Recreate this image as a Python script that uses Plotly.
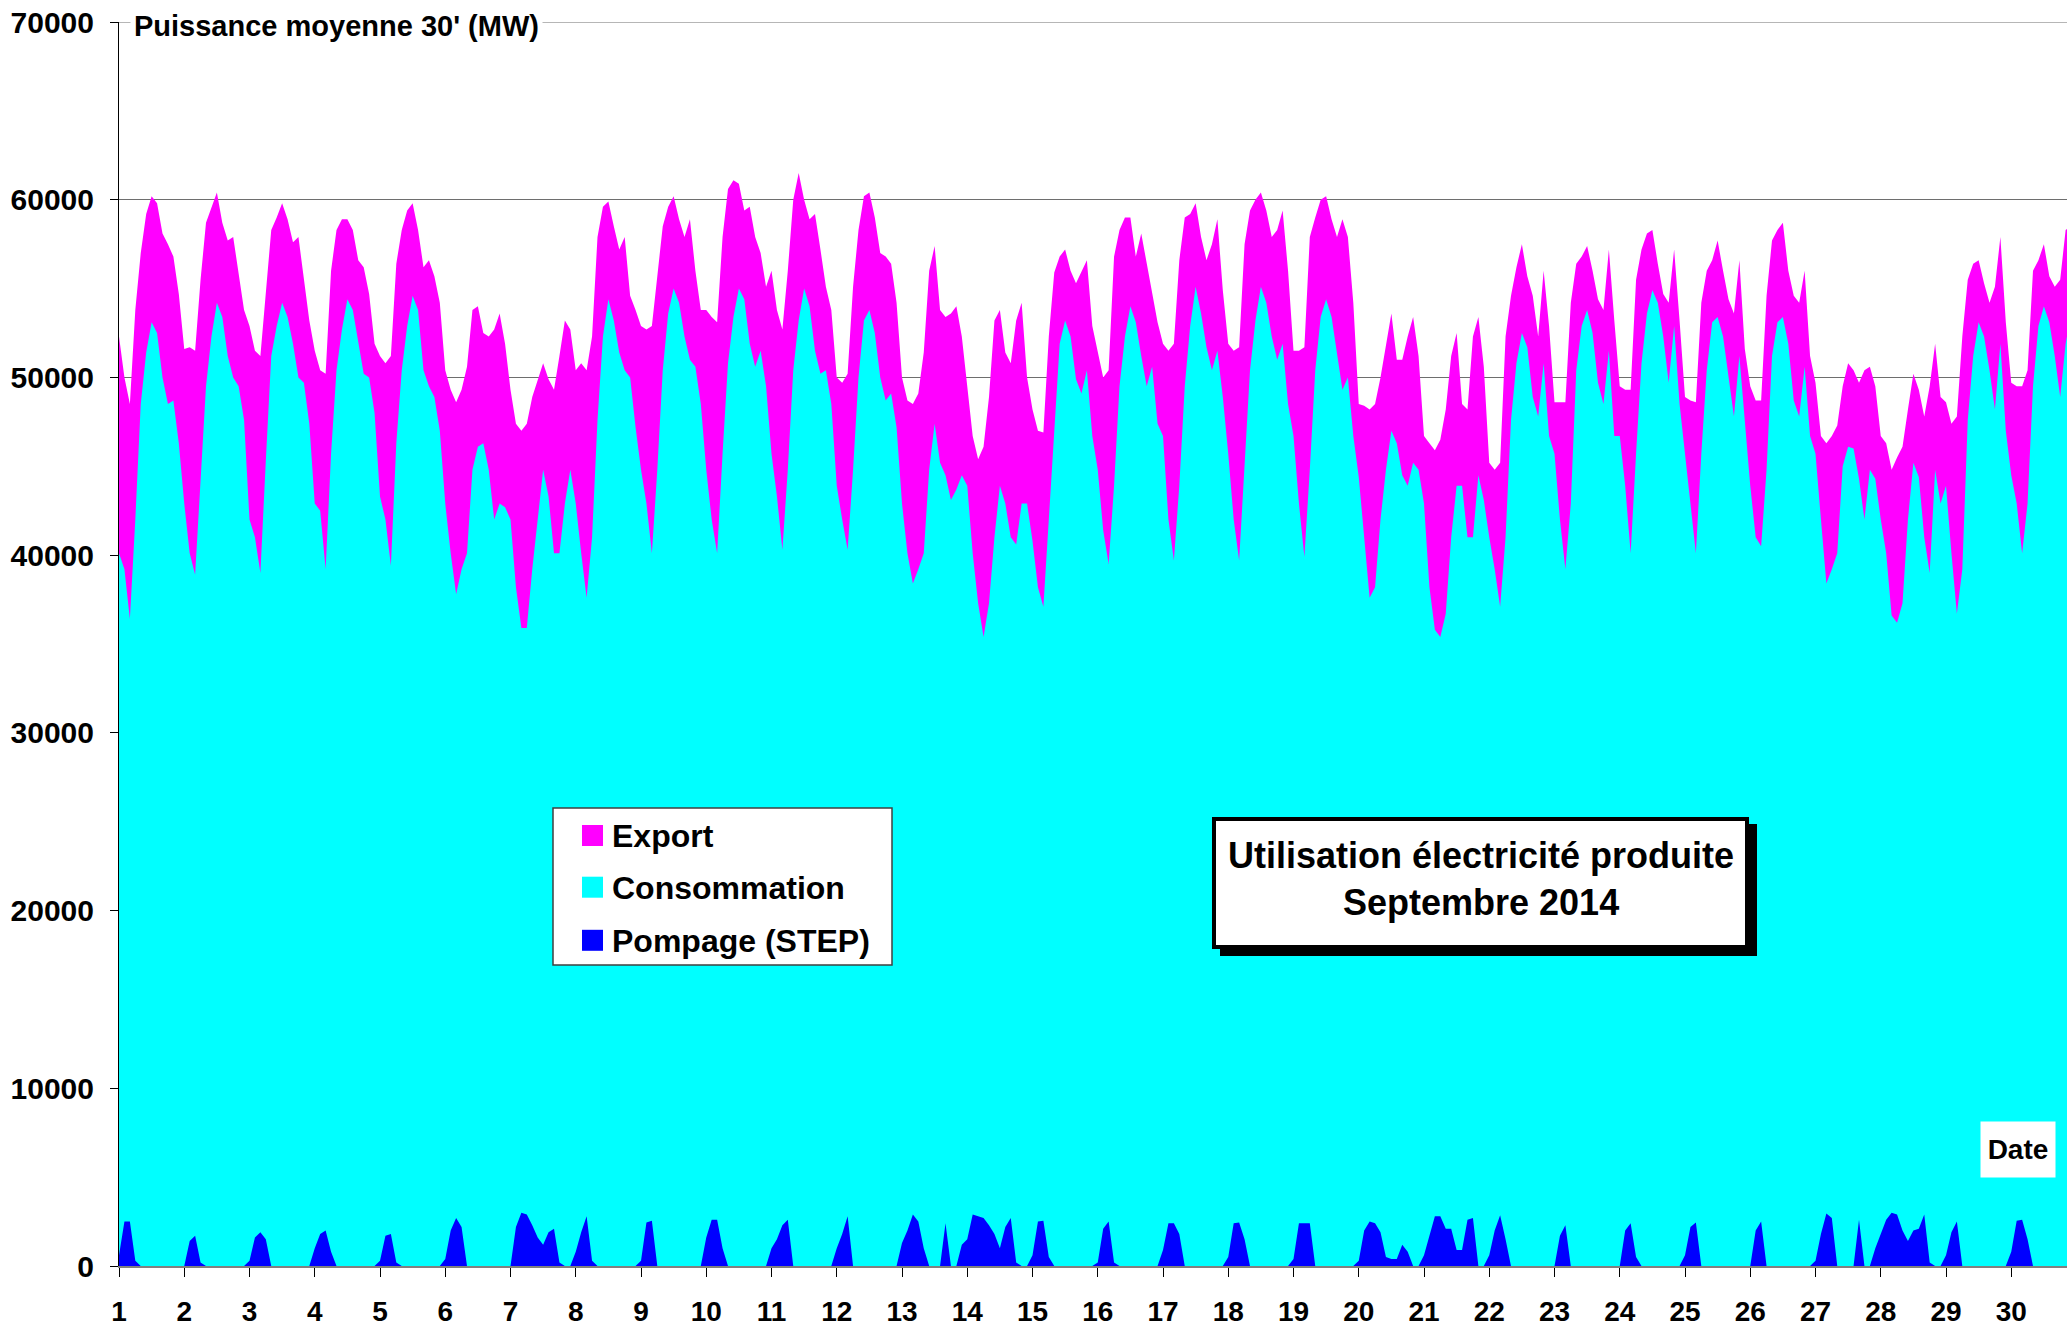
import plotly.graph_objects as go

# ---------------- data (MW) ----------------
jours = list(range(1, 31))                 # days of September 2014
heures = [0, 2, 4, 6, 8, 10, 12, 14, 16, 18, 20, 22]   # sample hours in each day
x_tick_labels = [str(d) for d in jours]
y_tick_values = [0, 10000, 20000, 30000, 40000, 50000, 60000, 70000]
y_tick_labels = [str(v) for v in y_tick_values]

# upper edge of the Export band (stack top)
export_haut = [
    [52300, 50000, 48500, 53800, 57000, 59200, 60200, 59800, 58100, 57500, 56800, 54700],
    [51600, 51700, 51500, 55500, 58700, 59600, 60400, 58700, 57700, 57900, 55700, 53800],
    [52900, 51500, 51200, 54600, 58300, 59000, 59800, 58900, 57600, 57900, 55500, 53200],
    [51500, 50400, 50200, 56000, 58300, 58900, 58900, 58300, 56600, 56200, 54700, 51900],
    [51200, 50800, 51200, 56400, 58300, 59400, 59800, 58300, 56200, 56600, 55700, 54200],
    [50400, 49300, 48600, 49300, 50600, 53800, 54000, 52500, 52300, 52700, 53600, 51900],
    [49300, 47400, 47000, 47400, 48900, 49900, 50800, 49900, 49300, 51200, 53200, 52700],
    [50400, 50800, 50400, 52300, 57900, 59600, 59900, 58500, 57200, 57900, 54600, 53800],
    [52900, 52700, 52900, 55700, 58500, 59600, 60200, 58900, 57900, 58900, 56000, 53800],
    [53800, 53400, 53100, 57900, 60600, 61100, 60900, 59400, 59600, 57900, 57000, 55100],
    [56000, 53800, 52700, 56000, 60000, 61500, 60000, 58900, 59200, 57200, 55100, 53800],
    [50000, 49700, 50200, 55100, 58300, 60200, 60400, 59000, 57000, 56800, 56400, 54200],
    [50000, 48700, 48500, 49100, 51400, 56000, 57400, 53800, 53400, 53600, 54000, 52300],
    [49500, 46700, 45400, 46100, 48900, 53200, 53800, 51400, 50800, 53200, 54200, 50000],
    [48200, 47000, 46900, 52300, 55900, 56800, 57200, 56000, 55300, 56000, 56600, 52900],
    [51500, 50000, 50400, 56800, 58300, 59000, 59000, 56800, 58100, 56400, 54900, 53100],
    [51900, 51500, 51900, 56600, 59000, 59200, 59800, 57900, 56600, 57500, 58900, 54900],
    [51900, 51500, 51700, 57500, 59400, 60000, 60400, 59400, 57900, 58300, 59400, 56000],
    [51500, 51500, 51700, 57900, 59000, 60000, 60200, 58900, 57900, 58900, 57900, 54200],
    [48500, 48400, 48200, 48500, 50000, 51900, 53600, 51000, 51000, 52300, 53400, 51200],
    [46700, 46300, 45900, 46500, 48200, 51200, 52500, 48500, 48200, 52300, 53400, 50600],
    [45200, 44800, 45200, 52300, 54600, 56200, 57500, 55700, 54600, 52300, 56000, 52900],
    [48600, 48600, 48600, 54200, 56400, 56800, 57400, 56000, 54400, 53800, 57200, 53200],
    [49500, 49300, 49300, 55500, 57200, 58100, 58300, 56400, 54700, 54200, 57200, 53200],
    [48900, 48700, 48600, 54200, 56000, 56600, 57700, 56000, 54400, 53600, 56600, 51600],
    [49500, 48700, 48700, 54600, 57700, 58300, 58700, 56000, 54600, 54200, 56000, 51200],
    [49700, 46700, 46300, 46700, 47300, 49500, 50800, 50400, 49700, 50400, 50600, 49500],
    [46700, 46300, 44800, 45500, 46100, 48200, 50200, 49300, 47800, 49500, 51900, 48900],
    [48600, 47400, 47800, 52300, 55500, 56400, 56600, 55300, 54200, 55100, 57900, 53100],
    [49700, 49500, 49500, 50400, 56000, 56600, 57500, 55700, 55100, 55500, 58300, 58500],
]

# upper edge of the Consommation band (stacked on pumping)
conso_haut = [
    [40100, 39200, 36400, 42000, 48500, 51400, 53100, 52500, 50000, 48500, 48700, 46300],
    [42900, 40100, 38900, 44400, 49500, 52300, 54200, 53400, 51200, 50000, 49500, 47600],
    [42000, 41000, 39000, 45300, 51200, 52900, 54200, 53400, 51900, 50000, 49700, 47400],
    [42900, 42500, 39200, 45700, 50400, 52700, 54400, 53800, 51900, 50200, 50000, 48000],
    [43300, 42000, 39400, 46300, 50400, 52900, 54600, 53800, 50400, 49500, 48900, 47000],
    [42900, 40100, 37800, 39200, 40100, 44800, 46100, 46300, 44800, 42000, 42900, 42700],
    [42000, 38200, 35900, 35900, 39200, 42000, 44800, 43300, 40100, 40100, 42900, 44800],
    [42900, 40100, 37600, 41000, 47600, 52300, 54400, 53200, 51400, 50400, 50000, 47200],
    [44800, 42900, 40100, 44800, 50400, 53600, 55000, 54200, 52300, 51000, 50600, 48500],
    [44800, 42000, 40100, 45700, 50800, 53400, 55000, 54400, 51900, 50600, 51500, 49500],
    [45700, 43300, 40300, 44800, 50400, 53200, 55000, 54000, 51500, 50200, 50400, 48500],
    [43900, 42000, 40300, 44800, 50000, 53200, 53800, 52500, 50000, 48700, 49100, 47200],
    [42900, 40100, 38400, 39200, 40100, 44800, 47400, 45200, 44500, 43100, 43700, 44500],
    [43900, 40100, 37300, 35400, 37300, 41000, 43900, 42900, 41000, 40600, 42900, 42900],
    [40800, 38200, 37100, 42000, 46700, 51900, 53200, 52300, 49900, 49100, 50400, 46700],
    [44800, 41400, 39500, 43900, 49500, 52300, 54000, 53100, 51200, 49500, 50600, 47400],
    [46700, 42000, 39700, 43900, 49500, 52900, 55100, 53600, 51700, 50400, 51500, 48900],
    [45700, 42000, 39700, 44800, 50400, 53200, 55100, 54200, 52300, 51000, 51900, 48500],
    [46700, 42900, 39900, 44800, 50400, 53400, 54400, 53400, 51200, 49300, 50000, 46700],
    [44400, 41000, 37600, 38200, 42000, 44800, 47000, 46300, 44500, 43900, 45200, 44800],
    [42900, 38200, 35800, 35400, 36700, 41000, 43900, 43900, 41000, 41000, 44500, 43100],
    [41000, 39200, 37100, 41000, 47600, 50800, 52500, 51700, 48900, 47800, 50800, 46700],
    [45700, 42000, 39200, 42900, 50400, 52900, 53800, 52500, 49700, 48500, 51500, 46700],
    [46700, 43900, 40100, 45700, 50800, 53600, 54900, 54200, 52300, 49700, 52900, 48500],
    [45700, 42900, 40100, 45700, 50400, 53100, 53400, 52300, 50000, 47800, 51200, 47400],
    [43900, 41000, 40500, 44800, 51200, 53100, 53400, 51900, 48700, 47800, 50600, 46700],
    [45700, 42000, 38400, 39200, 40100, 45000, 46100, 46000, 44300, 42000, 44800, 44300],
    [42000, 40100, 36600, 36200, 37300, 42000, 45200, 44400, 41000, 39000, 44800, 42900],
    [43900, 40100, 36700, 39200, 47600, 51200, 53100, 52300, 50400, 48200, 51900, 47000],
    [44500, 42900, 40100, 42900, 49500, 52900, 54000, 53100, 51200, 48900, 51900, 53500],
]

# Pompage (STEP)
pompage = [
    [600, 2500, 2500, 300, 0, 0, 0, 0, 0, 0, 0, 0],
    [0, 1400, 1700, 200, 0, 0, 0, 0, 0, 0, 0, 0],
    [300, 1600, 1900, 1500, 0, 0, 0, 0, 0, 0, 0, 0],
    [1000, 1800, 2000, 800, 0, 0, 0, 0, 0, 0, 0, 0],
    [300, 1700, 1800, 200, 0, 0, 0, 0, 0, 0, 0, 0],
    [400, 2000, 2700, 2200, 0, 0, 0, 0, 0, 0, 0, 0],
    [0, 2200, 3000, 2900, 2300, 1600, 1200, 1900, 2100, 200, 0, 0],
    [800, 1900, 2800, 300, 0, 0, 0, 0, 0, 0, 0, 0],
    [300, 2450, 2550, 0, 0, 0, 0, 0, 0, 0, 0, 0],
    [1600, 2600, 2600, 1000, 0, 0, 0, 0, 0, 0, 0, 0],
    [1000, 1500, 2300, 2600, 0, 0, 0, 0, 0, 0, 0, 0],
    [1000, 1800, 2800, 0, 0, 0, 0, 0, 0, 0, 0, 0],
    [1300, 2000, 2900, 2500, 1000, 0, 0, 0, 2400, 0, 0, 1200],
    [1500, 2900, 2800, 2700, 2300, 1800, 1000, 2200, 2700, 200, 0, 0],
    [600, 2500, 2550, 500, 0, 0, 0, 0, 0, 0, 0, 0],
    [200, 2100, 2500, 200, 0, 0, 0, 0, 0, 0, 0, 0],
    [900, 2400, 2400, 1800, 0, 0, 0, 0, 0, 0, 0, 0],
    [500, 2400, 2450, 1500, 0, 0, 0, 0, 0, 0, 0, 0],
    [400, 2400, 2400, 2400, 0, 0, 0, 0, 0, 0, 0, 0],
    [300, 2000, 2500, 2400, 1900, 500, 400, 400, 1200, 800, 0, 0],
    [600, 1700, 2800, 2800, 2100, 2100, 900, 900, 2600, 2700, 0, 0],
    [600, 2000, 2850, 1500, 0, 0, 0, 0, 0, 0, 0, 0],
    [0, 1700, 2300, 0, 0, 0, 0, 0, 0, 0, 0, 0],
    [0, 2000, 2400, 500, 0, 0, 0, 0, 0, 0, 0, 0],
    [600, 2200, 2450, 0, 0, 0, 0, 0, 0, 0, 0, 0],
    [0, 2000, 2500, 0, 0, 0, 0, 0, 0, 0, 0, 0],
    [300, 1800, 2950, 2700, 0, 0, 0, 0, 2600, 0, 0, 1000],
    [1800, 2600, 3000, 2900, 2000, 1400, 2000, 2100, 2900, 200, 0, 0],
    [600, 1900, 2500, 0, 0, 0, 0, 0, 0, 0, 0, 0],
    [800, 2550, 2600, 1500, 0, 0, 0, 0, 0, 0, 0, 0],
]

# ---------------- build ----------------
x = [d + h / 24.0 for d in jours for h in heures]


def flat(rows):
    return [v for row in rows for v in row]


FONT = "Liberation Sans, Arial, sans-serif"
W, H = 2067, 1326
ML, MR, MT, MB = 119, 0, 22, 60
PW, PH = W - ML - MR, H - MT - MB


def px(xp):
    return (xp - ML) / PW


def py(yp):
    return (H - MB - yp) / PH


fig = go.Figure()
for name, rows, col in [("Export", export_haut, "#FF00FF"),
                        ("Consommation", conso_haut, "#00FFFF"),
                        ("Pompage (STEP)", pompage, "#0000FF")]:
    fig.add_trace(go.Scatter(x=x, y=flat(rows), name=name, mode="lines",
                             line=dict(width=0, color=col), fill="tozeroy",
                             fillcolor=col, hoverinfo="skip", showlegend=False))

shapes = []
annotations = []

# top gridline at 70000 (edge of the range)
shapes.append(dict(type="line", xref="paper", yref="y", x0=0, x1=1,
                   y0=y_tick_values[-1], y1=y_tick_values[-1], layer="below",
                   line=dict(color="#6e6e6e", width=1)))

# legend box (drawn by hand)
shapes.append(dict(type="rect", xref="paper", yref="paper",
                   x0=px(553), x1=px(892), y0=py(965), y1=py(808),
                   fillcolor="white", line=dict(color="#404040", width=1.5)))
legend_rows = [("Export", "#FF00FF", 835.5), ("Consommation", "#00FFFF", 887.2),
               ("Pompage (STEP)", "#0000FF", 940.3)]
for label, col, yc in legend_rows:
    shapes.append(dict(type="rect", xref="paper", yref="paper",
                       x0=px(582), x1=px(603), y0=py(yc + 10.5), y1=py(yc - 10.5),
                       fillcolor=col, line=dict(width=0)))
    annotations.append(dict(text=label, xref="paper", yref="paper",
                            x=px(610), y=py(yc + 0.5), xanchor="left", yanchor="middle",
                            showarrow=False,
                            font=dict(family=FONT, size=32, color="black", weight="bold")))

# title box with shadow
bx0, bx1, by0, by1 = 1214, 1747, 819, 947
shapes.append(dict(type="rect", xref="paper", yref="paper",
                   x0=px(bx0 + 8), x1=px(bx1 + 8), y0=py(by1 + 7), y1=py(by0 + 7),
                   fillcolor="black", line=dict(color="black", width=4)))
shapes.append(dict(type="rect", xref="paper", yref="paper",
                   x0=px(bx0), x1=px(bx1), y0=py(by1), y1=py(by0),
                   fillcolor="white", line=dict(color="black", width=4)))
for txt, yc in [("Utilisation électricité produite", 855), ("Septembre 2014", 902)]:
    annotations.append(dict(text=txt, xref="paper", yref="paper",
                            x=px((bx0 + bx1) / 2), y=py(yc), xanchor="center",
                            yanchor="middle", showarrow=False,
                            font=dict(family=FONT, size=36, color="black", weight="bold")))

# axis titles
annotations.append(dict(text="Puissance moyenne 30' (MW)", xref="paper", yref="paper",
                        x=px(130), y=py(26), xanchor="left", yanchor="middle",
                        showarrow=False, bgcolor="white", borderpad=3,
                        font=dict(family=FONT, size=29, color="black", weight="bold")))
annotations.append(dict(text="Date", xref="paper", yref="paper",
                        x=px(2018), y=py(1149), xanchor="center", yanchor="middle",
                        showarrow=False, bgcolor="white", width=72, height=53,
                        font=dict(family=FONT, size=28, color="black", weight="bold")))

fig.update_layout(
    width=W, height=H,
    margin=dict(l=ML, r=MR, t=MT, b=MB, pad=0),
    paper_bgcolor="white", plot_bgcolor="white",
    showlegend=False,
    shapes=shapes, annotations=annotations,
    xaxis=dict(range=[1, 1 + (W - ML) / 65.25], tickvals=jours, ticktext=x_tick_labels,
               ticks="outside", ticklen=9, tickcolor="black", tickwidth=1,
               showline=True, linecolor="#808080", linewidth=2, showgrid=False,
               zeroline=False, ticklabelstandoff=10,
               tickfont=dict(family=FONT, size=28, color="black", weight="bold")),
    yaxis=dict(range=[0, 70000], tickvals=y_tick_values, ticktext=y_tick_labels,
               ticks="outside", ticklen=8, tickcolor="black", tickwidth=1,
               showline=True, linecolor="black", linewidth=1,
               showgrid=True, gridcolor="#6e6e6e", gridwidth=1, zeroline=False,
               ticklabelstandoff=10,
               tickfont=dict(family=FONT, size=30, color="black", weight="bold")),
)

fig.write_html("out.html", config={"displayModeBar": False},
               post_script="document.body.style.margin='0';document.body.style.overflow='hidden';")
